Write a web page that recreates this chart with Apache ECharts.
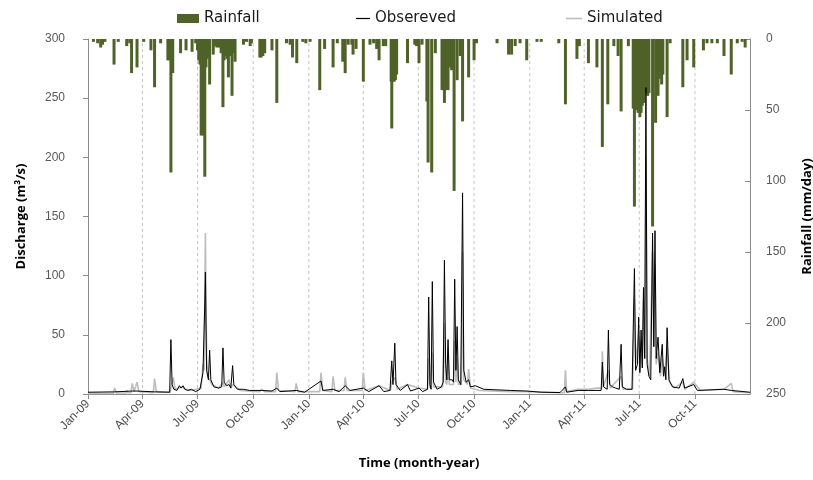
<!DOCTYPE html>
<html>
<head>
<meta charset="utf-8">
<script src="https://cdn.jsdelivr.net/npm/echarts@6/dist/echarts.min.js"></script>
<style>html,body{margin:0;padding:0;background:#fff}#c{width:813px;height:480px}</style>
</head>
<body>
<div id="c"></div>
<script>
// ---------- DATA ----------
const tickDates = ['2009-01-01','2009-04-01','2009-07-01','2009-10-01','2010-01-01','2010-04-01','2010-07-01','2010-10-01','2011-01-01','2011-04-01','2011-07-01','2011-10-01'];
const tickLabels = ['Jan-09','Apr-09','Jul-09','Oct-09','Jan-10','Apr-10','Jul-10','Oct-10','Jan-11','Apr-11','Jul-11','Oct-11'];

const rainDates = ['2009-01-10','2009-01-17','2009-01-22','2009-01-25','2009-01-29','2009-02-13','2009-02-20','2009-03-06','2009-03-11','2009-03-14','2009-03-23','2009-04-03','2009-04-15','2009-04-21','2009-05-01','2009-05-13','2009-05-15','2009-05-18','2009-05-21','2009-06-03','2009-06-12','2009-06-22','2009-06-28','2009-07-01','2009-07-03','2009-07-05','2009-07-07','2009-07-09','2009-07-11','2009-07-13','2009-07-15','2009-07-17','2009-07-19','2009-07-21','2009-07-27','2009-07-30','2009-08-02','2009-08-06','2009-08-09','2009-08-12','2009-08-14','2009-08-16','2009-08-19','2009-08-21','2009-08-24','2009-08-27','2009-08-30','2009-09-01','2009-09-15','2009-09-20','2009-09-26','2009-09-28','2009-10-12','2009-10-14','2009-10-17','2009-10-20','2009-11-01','2009-11-09','2009-11-25','2009-12-01','2009-12-05','2009-12-12','2009-12-22','2009-12-27','2010-01-03','2010-01-19','2010-01-27','2010-02-10','2010-02-17','2010-02-26','2010-03-02','2010-03-07','2010-03-13','2010-03-15','2010-03-20','2010-04-01','2010-04-12','2010-04-18','2010-04-23','2010-04-27','2010-05-04','2010-05-08','2010-05-17','2010-05-18','2010-05-20','2010-05-22','2010-05-24','2010-05-26','2010-06-13','2010-06-25','2010-06-28','2010-07-02','2010-07-07','2010-07-15','2010-07-17','2010-07-23','2010-07-29','2010-08-09','2010-08-11','2010-08-13','2010-08-15','2010-08-17','2010-08-19','2010-08-23','2010-08-25','2010-08-29','2010-09-03','2010-09-08','2010-09-12','2010-09-22','2010-10-01','2010-10-05','2010-11-08','2010-11-27','2010-12-02','2010-12-08','2010-12-16','2010-12-27','2011-01-13','2011-01-20','2011-02-18','2011-03-01','2011-03-20','2011-03-24','2011-04-08','2011-04-22','2011-05-01','2011-05-10','2011-05-20','2011-05-27','2011-06-01','2011-06-13','2011-06-21','2011-06-23','2011-06-25','2011-06-27','2011-06-29','2011-07-02','2011-07-04','2011-07-06','2011-07-08','2011-07-11','2011-07-13','2011-07-15','2011-07-17','2011-07-23','2011-07-28','2011-08-01','2011-08-03','2011-08-05','2011-08-07','2011-08-09','2011-08-16','2011-08-21','2011-09-11','2011-09-18','2011-09-29','2011-10-15','2011-10-21','2011-10-29','2011-11-07','2011-11-18','2011-11-30','2011-12-10','2011-12-18','2011-12-23'];
const rainValues = [2,3,6,4,2,18,2,5,3,24,20,2,8,34,3,15,15,94,24,10,8,9,3,8,15,18,68,66,68,97,20,14,12,32,11,5,6,6,10,48,15,12,14,27,12,40,10,16,4,2,5,3,13,13,12,10,8,45,3,4,13,17,2,3,2,36,7,20,3,16,24,4,4,11,7,30,4,3,7,15,5,5,30,63,30,30,29,25,17,4,5,17,4,44,87,94,10,36,30,45,36,28,36,20,22,107,29,12,58,27,15,3,3,11,11,5,3,15,2,2,3,46,14,5,17,20,76,46,5,12,51,5,49,118,50,49,52,55,52,47,45,30,38,40,38,132,59,40,28,22,32,25,55,3,34,15,20,8,3,3,3,12,25,3,2,6];

const obsDates = ['2009-01-01','2009-02-14','2009-03-15','2009-03-23','2009-04-21','2009-05-16','2009-05-18','2009-05-20','2009-05-23','2009-05-28','2009-06-01','2009-06-04','2009-06-07','2009-06-10','2009-06-15','2009-06-21','2009-06-28','2009-07-05','2009-07-10','2009-07-13','2009-07-14','2009-07-16','2009-07-19','2009-07-21','2009-07-23','2009-07-28','2009-08-05','2009-08-10','2009-08-12','2009-08-14','2009-08-18','2009-08-22','2009-08-25','2009-08-28','2009-08-30','2009-09-05','2009-09-15','2009-09-25','2009-10-15','2009-11-01','2009-11-09','2009-11-14','2009-12-11','2009-12-25','2010-01-21','2010-01-24','2010-02-10','2010-02-20','2010-03-02','2010-03-10','2010-04-01','2010-04-10','2010-04-27','2010-05-05','2010-05-15','2010-05-18','2010-05-20','2010-05-23','2010-05-25','2010-06-01','2010-06-13','2010-06-18','2010-07-02','2010-07-08','2010-07-16','2010-07-18','2010-07-20','2010-07-22','2010-07-24','2010-07-26','2010-08-01','2010-08-08','2010-08-11','2010-08-13','2010-08-15','2010-08-17','2010-08-19','2010-08-21','2010-08-26','2010-08-28','2010-08-30','2010-09-01','2010-09-03','2010-09-05','2010-09-09','2010-09-12','2010-09-14','2010-09-18','2010-09-22','2010-09-25','2010-10-03','2010-10-17','2010-11-30','2010-12-27','2011-01-20','2011-02-20','2011-03-01','2011-03-03','2011-03-22','2011-04-08','2011-04-22','2011-04-29','2011-05-01','2011-05-03','2011-05-09','2011-05-11','2011-05-13','2011-05-18','2011-05-23','2011-05-29','2011-06-01','2011-06-03','2011-06-10','2011-06-19','2011-06-23','2011-06-25','2011-06-28','2011-06-30','2011-07-02','2011-07-04','2011-07-06','2011-07-08','2011-07-10','2011-07-12','2011-07-14','2011-07-17','2011-07-20','2011-07-23','2011-07-25','2011-07-27','2011-07-29','2011-08-01','2011-08-04','2011-08-08','2011-08-10','2011-08-12','2011-08-14','2011-08-16','2011-08-19','2011-08-25','2011-09-05','2011-09-11','2011-09-14','2011-09-29','2011-10-05','2011-11-18','2011-11-30','2011-12-31'];
const obsValues = [1.5,1.8,2.5,2.5,1.8,1.5,46,8,4,3,7,5,7,4,3,4,2,4,18,77,103,20,12,37,12,6,5,6,39,10,7,8,5,24,8,4,4,3,3,2.5,5,2,3,1.5,11,3,4,2,7,3,5,2,7,2,3,28,8,43,8,3,8,2.5,5,2,4,82,8,4,95,10,4,6,10,113,25,12,46,12,12,10,97,20,57,12,8,170,20,10,12,6,7,4,3,2.5,1.5,1.2,6,1.5,3,3,3,3,27,6,4,54,8,6,5,4,42,6,4,4,106,20,25,65,18,54,22,90,30,259,25,15,12,136,40,138,30,48,18,42,15,23,12,56,12,6,5,13,5,8,3,4,3,1.5];

const simDates = ['2009-01-01','2009-02-12','2009-02-14','2009-02-17','2009-03-05','2009-03-06','2009-03-08','2009-03-13','2009-03-15','2009-03-18','2009-03-23','2009-03-26','2009-04-19','2009-04-21','2009-04-24','2009-05-17','2009-05-18','2009-05-22','2009-05-25','2009-06-05','2009-06-12','2009-06-21','2009-07-07','2009-07-10','2009-07-12','2009-07-14','2009-07-16','2009-07-18','2009-07-21','2009-07-25','2009-08-05','2009-08-12','2009-08-14','2009-08-22','2009-08-25','2009-08-28','2009-09-10','2009-10-12','2009-10-15','2009-10-20','2009-11-07','2009-11-09','2009-11-12','2009-12-09','2009-12-11','2009-12-14','2010-01-19','2010-01-21','2010-01-24','2010-02-08','2010-02-10','2010-02-13','2010-02-28','2010-03-02','2010-03-05','2010-03-30','2010-04-01','2010-04-04','2010-04-27','2010-05-16','2010-05-18','2010-05-23','2010-05-27','2010-06-13','2010-07-02','2010-07-16','2010-07-18','2010-07-20','2010-07-22','2010-07-24','2010-07-26','2010-08-10','2010-08-13','2010-08-15','2010-08-17','2010-08-19','2010-08-21','2010-08-28','2010-08-30','2010-09-01','2010-09-03','2010-09-05','2010-09-10','2010-09-12','2010-09-14','2010-09-20','2010-09-22','2010-09-25','2010-10-10','2010-11-30','2010-12-27','2011-02-27','2011-03-01','2011-03-03','2011-03-22','2011-04-08','2011-04-22','2011-04-30','2011-05-01','2011-05-03','2011-05-11','2011-05-14','2011-06-01','2011-06-04','2011-06-20','2011-06-23','2011-06-25','2011-06-30','2011-07-02','2011-07-04','2011-07-06','2011-07-08','2011-07-10','2011-07-12','2011-07-14','2011-07-18','2011-07-23','2011-07-25','2011-07-27','2011-07-29','2011-08-01','2011-08-05','2011-08-08','2011-08-12','2011-08-16','2011-08-20','2011-08-28','2011-09-11','2011-09-14','2011-09-29','2011-10-10','2011-11-18','2011-11-30','2011-12-03','2011-12-31'];
const simValues = [0.5,0.5,5,0.8,0.8,3,1,1,9,2,10,2,1,13,2,1.5,5,14,4,6,4,3,5,25,20,136,30,15,12,8,5,10,6,12,5,8,3,2,4,2,2,18,3,2,9,2,2,18,3,2,15,3,3,14,3,3,18,3,7,3,10,14,4,8,5,4,30,5,4,35,6,6,60,10,8,40,8,8,45,10,30,8,8,120,12,8,21,5,3,2,2,1,20,2,4,4,5,5,36,6,20,5,15,4,4,80,25,50,20,45,25,80,30,200,30,15,120,40,110,25,35,15,30,15,40,10,5,10,4,10,3,4,9,2,1];

// ---------- CHART ----------
const toTs = s => { const p = s.split('-').map(Number); return Date.UTC(p[0], p[1] - 1, p[2]); };
const zip = (a, b) => a.map((d, i) => [toTs(d), b[i]]);
const tickTs = tickDates.map(toTs);
const fmt = v => { const i = tickTs.indexOf(Math.round(+v)); return i >= 0 ? tickLabels[i] : ''; };
// vertical dashed gridlines at quarter ticks (broken line series, drawn under bars)
const gridData = [];
tickTs.slice(1).forEach(t => { gridData.push([t, 0], [t, 300], [t, '-']); });

const olive = '#4f6228';
const axisGray = '#8c8c8c';
const labelColor = '#595959';
const numFont = 'Liberation Sans';
const titleFont = 'Open Sans';
const legendText = { fontFamily: 'DejaVu Sans', fontSize: 15, color: '#1a1a1a' };

const chart = echarts.init(document.getElementById('c'), null, { renderer: 'canvas' });
chart.setOption({
  animation: false,
  backgroundColor: '#fff',
  legend: [
    { data: [{ name: 'Rainfall', icon: 'rect' }], left: 172, top: 6, itemWidth: 22, itemHeight: 9,
      textStyle: legendText },
    { data: [{ name: 'Obsereved', icon: 'rect' }], left: 351, top: 6, itemWidth: 14, itemHeight: 1.2,
      textStyle: legendText },
    { data: [{ name: 'Simulated', icon: 'rect' }], left: 561, top: 6, itemWidth: 16, itemHeight: 1.6,
      textStyle: legendText }
  ],
  grid: { left: 88, right: 63, top: 39, bottom: 86, containLabel: false, outerBoundsMode: 'none' },
  xAxis: {
    type: 'value',
    min: toTs('2009-01-01'),
    max: toTs('2011-12-31'),
    name: 'Time (month-year)',
    nameLocation: 'middle',
    nameGap: 63,
    nameTextStyle: { fontFamily: titleFont, fontWeight: 'bold', fontSize: 13, color: '#000' },
    axisLine: { lineStyle: { color: axisGray, width: 1 } },
    axisTick: { show: true, length: 5, lineStyle: { color: axisGray }, customValues: tickTs },
    axisLabel: { customValues: tickTs, formatter: fmt, rotate: 45, margin: 8,
      fontFamily: numFont, fontSize: 12, color: '#4d4d4d', hideOverlap: false },
    splitLine: { show: false }
  },
  yAxis: [
    {
      type: 'value', min: 0, max: 300, interval: 50,
      name: 'Discharge (m³/s)', nameLocation: 'middle', nameGap: 60, nameRotate: 90,
      nameTextStyle: { fontFamily: titleFont, fontWeight: 'bold', fontSize: 13, color: '#000' },
      axisLine: { show: true, lineStyle: { color: axisGray } },
      axisTick: { show: true, length: 5, lineStyle: { color: axisGray } },
      axisLabel: { fontFamily: numFont, fontSize: 12, color: labelColor, margin: 23 },
      splitLine: { show: false }
    },
    {
      type: 'value', min: 0, max: 250, interval: 50, inverse: true, position: 'right',
      name: 'Rainfall (mm/day)', nameLocation: 'middle', nameGap: 51, nameRotate: 90,
      nameTextStyle: { fontFamily: titleFont, fontWeight: 'bold', fontSize: 13, color: '#000' },
      axisLine: { show: true, lineStyle: { color: axisGray } },
      axisTick: { show: true, inside: true, length: 5, lineStyle: { color: axisGray } },
      axisLabel: { fontFamily: numFont, fontSize: 12, color: labelColor, margin: 16 },
      splitLine: { show: false }
    }
  ],
  series: [
    {
      name: 'grid', type: 'line', yAxisIndex: 0, z: 1, silent: true,
      symbol: 'none', showSymbol: false, connectNulls: false,
      lineStyle: { type: [3, 3], color: '#c4c4c4', width: 1 },
      data: gridData
    },
    {
      name: 'Rainfall', type: 'bar', yAxisIndex: 1, z: 2,
      barWidth: 3,
      itemStyle: { color: olive },
      data: zip(rainDates, rainValues)
    },
    {
      name: 'Simulated', type: 'line', yAxisIndex: 0, z: 3,
      symbol: 'none', showSymbol: false,
      lineStyle: { color: '#bdbdbd', width: 1.6 },
      itemStyle: { color: '#bdbdbd' },
      data: zip(simDates, simValues)
    },
    {
      name: 'Obsereved', type: 'line', yAxisIndex: 0, z: 4,
      symbol: 'none', showSymbol: false,
      lineStyle: { color: '#000', width: 1 },
      itemStyle: { color: '#000' },
      data: zip(obsDates, obsValues)
    }
  ]
});
</script>
</body>
</html>
